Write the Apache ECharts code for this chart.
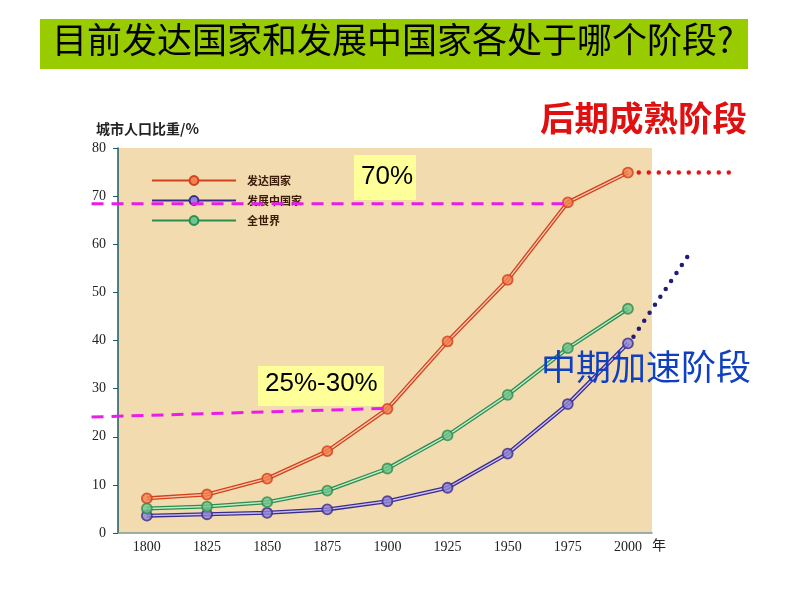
<!DOCTYPE html>
<html>
<head>
<meta charset="utf-8">
<script src="https://cdn.jsdelivr.net/npm/echarts@6/dist/echarts.min.js"></script>
<style>
  html, body { margin: 0; padding: 0; background: #fff; }
  #chart { width: 794px; height: 596px; }
</style>
</head>
<body>
<div id="chart"></div>
<script>
// 年份与城市人口比重(%)
var years = [1800, 1825, 1850, 1875, 1900, 1925, 1950, 1975, 2000];
var developed = [7.2, 8.0, 11.3, 17.0, 25.8, 39.8, 52.6, 68.7, 74.9];
var developing = [3.6, 3.9, 4.2, 4.9, 6.6, 9.4, 16.5, 26.8, 39.4];
var world = [5.1, 5.5, 6.4, 8.8, 13.4, 20.3, 28.7, 38.4, 46.6];
var seriesNames = ['发达国家', '发展中国家', '全世界'];
var yTicks = [0, 10, 20, 30, 40, 50, 60, 70, 80];

// 标注线 (年份, 百分比)
var line70 = [[1777, 68.4], [1975, 68.4]];
var line25 = [[1777, 24.1], [1900, 25.9]];
var redDots = [[2004.5, 74.9], [2043, 74.9]];
var blueDots = [[2002.3, 40.8], [2025, 57.6]];

var chartDom = document.getElementById('chart');
var myChart = echarts.init(chartDom);

// 主绘图区
var G = { left: 118, top: 148, width: 534, height: 385 };
var xMin = 1788, xMax = 2010, yMin = 0, yMax = 80;
// 覆盖整个画布的辅助坐标系, 比例与主坐标系一致, 用于超出绘图区的标注线
var W = 794, H = 596;
var pxPerYear = G.width / (xMax - xMin);
var pxPerUnit = G.height / (yMax - yMin);
var ox = { min: xMin - G.left / pxPerYear, max: xMin + (W - G.left) / pxPerYear };
var oy = { max: yMax + G.top / pxPerUnit, min: yMax - (H - G.top) / pxPerUnit };

function pairs(vals) {
	return years.map(function (y, i) { return [y, vals[i]]; });
}

// 双线效果: 粗线 + 浅色细线 + 圆点
function makeSeries(name, vals, dark, light, fill) {
	return [
		{
			name: name,
			type: 'line',
			data: pairs(vals),
			symbol: 'circle',
			symbolSize: 10,
			showSymbol: false,
			lineStyle: { color: dark, width: 4 },
			itemStyle: { color: fill, borderColor: dark, borderWidth: 1.6 },
			z: 3
		},
		{
			type: 'line',
			data: pairs(vals),
			symbol: 'none',
			silent: true,
			lineStyle: { color: light, width: 1.4 },
			z: 4
		},
		{
			type: 'scatter',
			data: pairs(vals),
			symbol: 'circle',
			symbolSize: 10,
			silent: true,
			itemStyle: { color: fill, borderColor: dark, borderWidth: 1.8 },
			z: 5
		}
	];
}

function annoLine(data, color, width, type, cap) {
	return {
		type: 'line',
		xAxisIndex: 1,
		yAxisIndex: 1,
		data: data,
		symbol: 'none',
		silent: true,
		lineStyle: { color: color, width: width, type: type, cap: cap || 'butt' },
		z: 6
	};
}

var series = []
	.concat(makeSeries(seriesNames[0], developed, '#d2401c', '#f8c8a8', '#f38252'))
	.concat(makeSeries(seriesNames[1], developing, '#3b2c8c', '#cac2f2', '#8e84d8'))
	.concat(makeSeries(seriesNames[2], world, '#2a8e4e', '#c4eacb', '#70c48e'))
	.concat([
		annoLine(line70, '#e81ee8', 3, [12, 8]),
		annoLine(line25, '#e81ee8', 3, [12, 8]),
		annoLine(redDots, '#e01818', 4.5, [0, 10], 'round'),
		annoLine(blueDots, '#1e1e78', 4.5, [0, 9.6], 'round')
	]);

var option = {
	animation: false,
	backgroundColor: '#ffffff',
	grid: [
		{
			left: G.left, top: G.top, width: G.width, height: G.height,
			show: true, backgroundColor: '#f3dbb0', borderWidth: 0
		},
		{ left: 0, top: 0, width: W, height: H, show: false }
	],
	legend: {
		data: seriesNames,
		orient: 'vertical',
		left: 146,
		top: 170,
		itemWidth: 84,
		itemHeight: 11,
		itemGap: 9,
		selectedMode: false,
		textStyle: { color: '#3a1c08', fontSize: 11, fontWeight: 'bold', fontFamily: 'Noto Sans CJK SC', padding: [0, 0, 0, 6] }
	},
	xAxis: [
		{
			type: 'value',
			min: xMin,
			max: xMax,
			name: '年',
			nameGap: 0,
			nameTextStyle: { color: '#222', fontSize: 14, fontFamily: 'Noto Sans CJK SC', verticalAlign: 'top', padding: [5, 0, 0, 0] },
			splitLine: { show: false },
			axisLine: { lineStyle: { color: '#7a9a98', width: 1.5 } },
			axisTick: { show: false },
			axisLabel: {
				customValues: years,
				formatter: function (v) { return String(v); },
				margin: 7,
				color: '#222',
				fontSize: 14,
				fontFamily: 'Liberation Serif'
			}
		},
		{ type: 'value', gridIndex: 1, min: ox.min, max: ox.max, show: false }
	],
	yAxis: [
		{
			type: 'value',
			min: yMin,
			max: yMax,
			interval: 10,
			name: '城市人口比重/%',
			nameLocation: 'end',
			nameGap: 12,
			nameTextStyle: { color: '#222', fontSize: 14, fontWeight: 'bold', fontFamily: 'Noto Sans CJK SC', align: 'left', padding: [0, 0, 0, -22] },
			splitLine: { show: false },
			axisLine: { show: true, lineStyle: { color: '#1a5a6e', width: 1.5 } },
			axisTick: { show: true, length: 5, lineStyle: { color: '#1a5a6e' } },
			axisLabel: {
				customValues: yTicks,
				margin: 12,
				color: '#222',
				fontSize: 14,
				fontFamily: 'Liberation Serif'
			}
		},
		{ type: 'value', gridIndex: 1, min: oy.min, max: oy.max, show: false }
	],
	graphic: [
		{ type: 'rect', left: 40, top: 19, shape: { width: 708, height: 50 }, style: { fill: '#99cc00' } },
		{ type: 'text', left: 52, top: 22, style: { text: '目前发达国家和发展中国家各处于哪个阶段?', fill: '#000', fontSize: 35, fontFamily: 'Noto Sans CJK SC' } },
		{ type: 'text', left: 540, top: 101, style: { text: '后期成熟阶段', fill: '#e01010', fontSize: 34.5, fontWeight: 'bold', fontFamily: 'Noto Sans CJK SC' } },
		{ type: 'text', left: 541, top: 349, z: 10, style: { text: '中期加速阶段', fill: '#1040c0', fontSize: 35, fontFamily: 'Noto Sans CJK SC' } },
		{ type: 'rect', left: 354, top: 155, z: 2, shape: { width: 62, height: 45 }, style: { fill: '#ffff9a' } },
		{ type: 'text', left: 361, top: 164, z: 3, style: { text: '70%', fill: '#000', fontSize: 26, fontFamily: 'Liberation Sans' } },
		{ type: 'rect', left: 258, top: 366, z: 2, shape: { width: 126, height: 40 }, style: { fill: '#ffff9a' } },
		{ type: 'text', left: 265, top: 371, z: 3, style: { text: '25%-30%', fill: '#000', fontSize: 26, fontFamily: 'Liberation Sans' } }
	],
	series: series
};

option && myChart.setOption(option);
</script>
</body>
</html>
